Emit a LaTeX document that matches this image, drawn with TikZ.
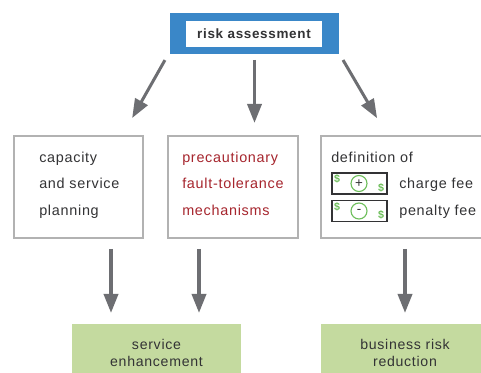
\documentclass[tikz,border=0pt]{standalone}
\usepackage{fontspec}
\setmainfont[LetterSpace=5]{Liberation Sans}
\usetikzlibrary{arrows.meta}
\definecolor{inkc}{HTML}{333335}
\definecolor{redc}{HTML}{A6252D}
\definecolor{bluec}{HTML}{3A87C8}
\definecolor{greenc}{HTML}{C4DA9F}
\definecolor{edgec}{HTML}{B2B2B2}
\definecolor{arrc}{HTML}{6D6E72}
\definecolor{moneyc}{HTML}{6DBE5A}
\def\u{.75pt}
\tikzset{
  x=.75pt,y=-.75pt,
  box/.style={draw=edgec,line width=2.4*\u,fill=white,anchor=north west,minimum height=102*\u,inner sep=0pt,outer sep=0pt},
  goal/.style={fill=greenc,anchor=north west,minimum height=57*\u,inner sep=0pt,outer sep=0pt,align=center,text=inkc,font=\fontsize{10.6pt}{12.8pt}\selectfont},
  lbl/.style={anchor=base west,inner sep=0pt,text=inkc,font=\fontsize{10.8pt}{13pt}\selectfont},
  redlbl/.style={lbl,text=redc},
  arr/.style={draw=arrc,line width=3.6*\u,-{Triangle[length=19*\u,width=14*\u]}},
  diagarr/.style={arr,line width=3*\u,shorten <=7*\u,shorten >=20.6*\u},
  bill/.style={draw=inkc,line width=1.6*\u,fill=white,anchor=north west,minimum width=55*\u,minimum height=21*\u,inner sep=0pt,outer sep=0pt},
  coin/.style={draw=moneyc,line width=1.1*\u,circle,minimum size=16*\u,inner sep=0pt,text=inkc,font=\fontsize{10pt}{10pt}\selectfont},
  cash/.style={inner sep=0pt,text=moneyc,font=\bfseries\fontsize{8pt}{8pt}\selectfont},
}
\begin{document}
\begin{tikzpicture}
\useasboundingbox (0,0) rectangle (481,373);
\clip (0,0) rectangle (481,373);
\node[fill=bluec,anchor=north west,minimum width=169*\u,minimum height=41*\u,inner sep=0pt,outer sep=0pt] (risk) at (170,13) {};
\node[fill=white,anchor=north west,minimum width=136*\u,minimum height=26*\u,inner sep=0pt,outer sep=0pt] (riskin) at (186,21) {};
\node[lbl,anchor=center,font=\bfseries\fontsize{10.1pt}{12pt}\selectfont] (risktxt) at (riskin.center) {risk assessment};

\node[box,minimum width=129*\u] (plan) at (14,136) {};
\node[box,minimum width=130*\u] (fault) at (168,136) {};
\node[box,minimum width=170*\u] (fee) at (321,136) {};

\node[lbl] (p1) at (39,163) {capacity};
\node[lbl] (p2) at (39,189) {and service};
\node[lbl] (p3) at (39,216) {planning};
\node[redlbl] (f1) at (182,163) {precautionary};
\node[redlbl] (f2) at (182,189) {fault-tolerance};
\node[redlbl] (f3) at (182,216) {mechanisms};
\node[lbl] (d0) at (331,163) {definition of};
\node[lbl] (d1) at (399,189) {charge fee};
\node[lbl] (d2) at (399,216) {penalty fee};

\node[bill] (b1) at (332,173) {};
\node[coin] (c1) at (359,183.5) {+};
\node[cash] (s1) at (337,179) {\$};
\node[cash] (t1) at (381,188) {\$};
\node[bill] (b2) at (332,200.5) {};
\draw[inkc,line width=2.4*\u] (b2.north west) -- (b2.south west) (b2.north east) -- (b2.south east);
\node[coin] (c2) at (359,211) {-};
\node[cash] (s2) at (337,207) {\$};
\node[cash] (t2) at (381,215) {\$};

\node[goal,minimum width=169*\u] (svc) at (72,324) {service\\enhancement};
\node[goal,minimum width=168*\u] (biz) at (321,324) {business risk\\reduction};

\draw[diagarr] ([xshift=-1.6*\u]risk.south west) -- ([xshift=43.5*\u]plan.north);
\draw[arr,shorten <=6*\u,shorten >=13*\u] (risk.south) -- (risk.south |- fault.north);
\draw[diagarr] ([xshift=.5*\u]risk.south east) -- ([xshift=-18.5*\u]fee.north);
\draw[arr,shorten <=11*\u,shorten >=11*\u] ([xshift=-45.5*\u]svc.north |- plan.south) -- ([xshift=-45.5*\u]svc.north);
\draw[arr,shorten <=11*\u,shorten >=11*\u] ([xshift=42.5*\u]svc.north |- plan.south) -- ([xshift=42.5*\u]svc.north);
\draw[arr,shorten <=11*\u,shorten >=11*\u] (biz.north |- fee.south) -- (biz.north);
\end{tikzpicture}
\end{document}
